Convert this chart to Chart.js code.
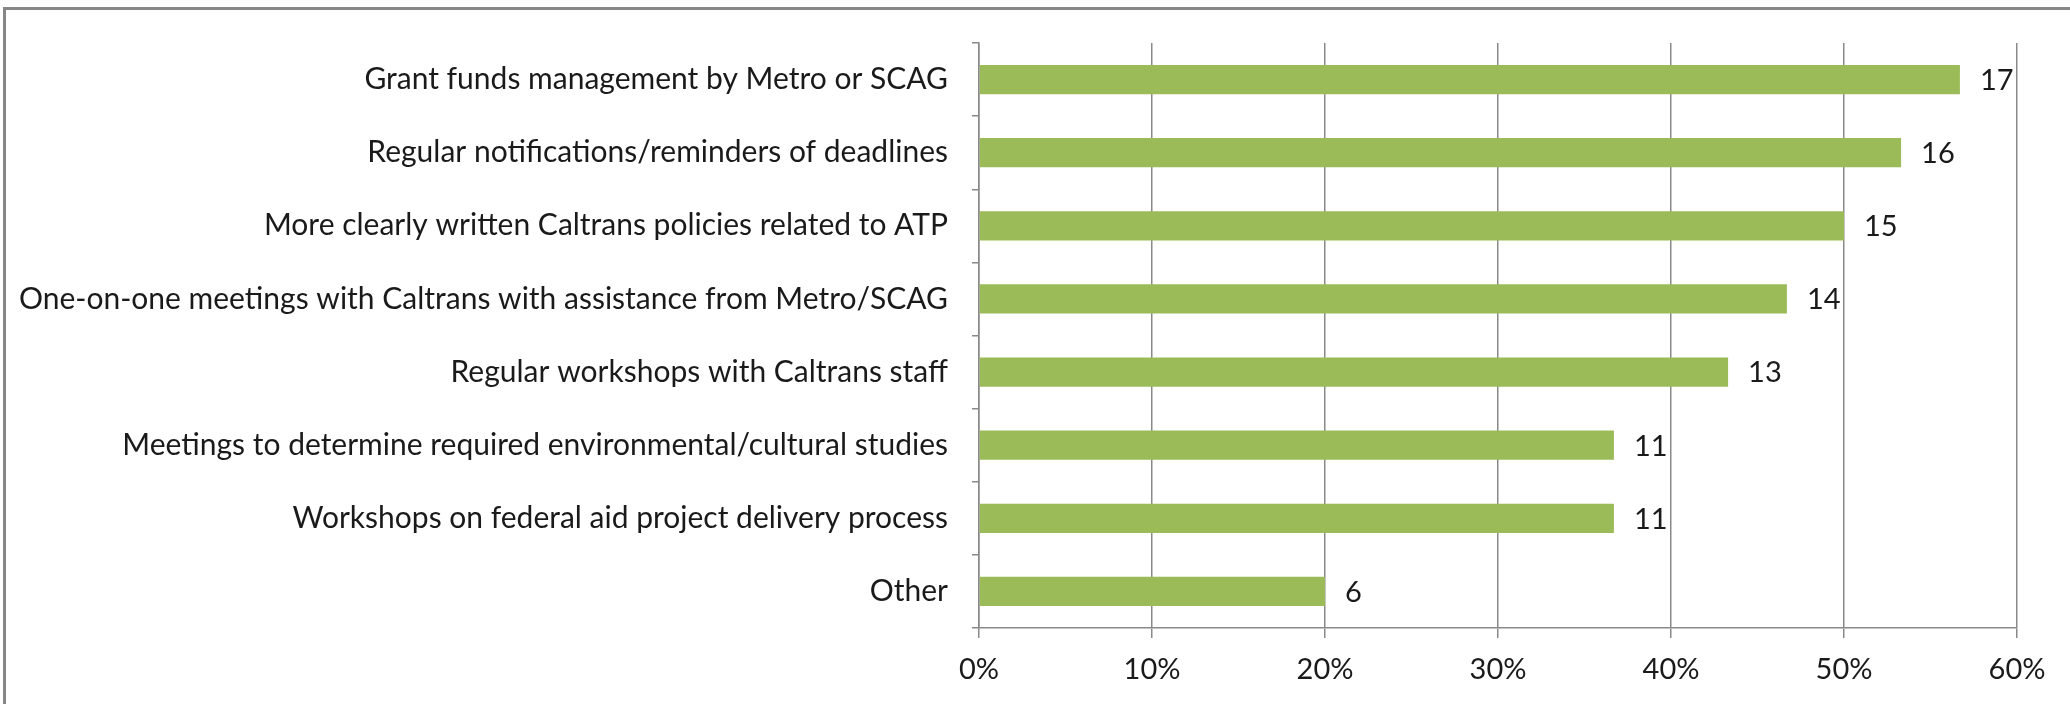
<!DOCTYPE html>
<html>
<head>
<meta charset="utf-8">
<script src="https://cdn.jsdelivr.net/npm/chart.js@4/dist/chart.umd.min.js"></script>
<style>
  body { margin: 0; background: #fff; }
  canvas { display: block; }
</style>
</head>
<body>
<canvas id="atpChart" width="2070" height="704"></canvas>
<script>
// categories, top to bottom
const categories = [
  'Grant funds management by Metro or SCAG',
  'Regular notifications/reminders of deadlines',
  'More clearly written Caltrans policies related to ATP',
  'One-on-one meetings with Caltrans with assistance from Metro/SCAG',
  'Regular workshops with Caltrans staff',
  'Meetings to determine required environmental/cultural studies',
  'Workshops on federal aid project delivery process',
  'Other'
];
// share of respondents (%)
const percents = [56.7, 53.3, 50.0, 46.7, 43.3, 36.7, 36.7, 20.0];
// number of respondents shown at the end of each bar
const counts = [17, 16, 15, 14, 13, 11, 11, 6];
const xTicks = [0, 10, 20, 30, 40, 50, 60];

const FONT = 'Lato, "Open Sans", sans-serif';
const GRID = '#898989';

// frame around the chart (only top and left edges fall inside the picture)
const framePlugin = {
  id: 'frame',
  beforeDraw(chart) {
    const ctx = chart.ctx;
    ctx.save();
    ctx.strokeStyle = '#878787';
    ctx.lineWidth = 3;
    ctx.beginPath();
    ctx.moveTo(4.5, 704);
    ctx.lineTo(4.5, 8.5);
    ctx.lineTo(2070, 8.5);
    ctx.stroke();
    ctx.restore();
  }
};

// count labels to the right of each bar
const countLabels = {
  id: 'countLabels',
  afterDatasetsDraw(chart) {
    const ctx = chart.ctx;
    const meta = chart.getDatasetMeta(0);
    ctx.save();
    ctx.fillStyle = '#1a1a1a';
    ctx.font = '29px ' + FONT;
    ctx.textAlign = 'left';
    ctx.textBaseline = 'middle';
    meta.data.forEach((bar, i) => {
      ctx.fillText(String(counts[i]), bar.x + 20, bar.y + 1);
    });
    ctx.restore();
  }
};

new Chart(document.getElementById('atpChart'), {
  type: 'bar',
  data: {
    labels: categories,
    datasets: [{
      data: percents,
      backgroundColor: '#9BBB59',
      borderWidth: 0,
      categoryPercentage: 1.0,
      barPercentage: 0.4
    }]
  },
  options: {
    indexAxis: 'y',
    responsive: false,
    animation: false,
    layout: { padding: { top: 43, right: 53, left: 0, bottom: 0 } },
    plugins: {
      legend: { display: false },
      tooltip: { enabled: false }
    },
    scales: {
      x: {
        min: 0,
        max: 60,
        afterBuildTicks(scale) {
          scale.ticks = xTicks.map(v => ({ value: v }));
        },
        afterFit(scale) { scale.height = 76; },
        grid: {
          color: GRID,
          lineWidth: 1.5,
          drawTicks: true,
          tickLength: 10
        },
        border: { color: GRID, width: 1.5 },
        ticks: {
          color: '#1a1a1a',
          padding: 14,
          font: { family: FONT, size: 29 },
          callback: v => v + '%'
        }
      },
      y: {
        afterFit(scale) { scale.width = 979; },
        grid: {
          offset: true,
          drawOnChartArea: false,
          drawTicks: true,
          tickLength: 7,
          color: GRID,
          lineWidth: 1.5
        },
        border: { color: GRID, width: 1.5 },
        ticks: {
          color: '#1a1a1a',
          padding: 24,
          font: { family: FONT, size: 30 }
        }
      }
    }
  },
  plugins: [framePlugin, countLabels]
});
</script>
</body>
</html>
